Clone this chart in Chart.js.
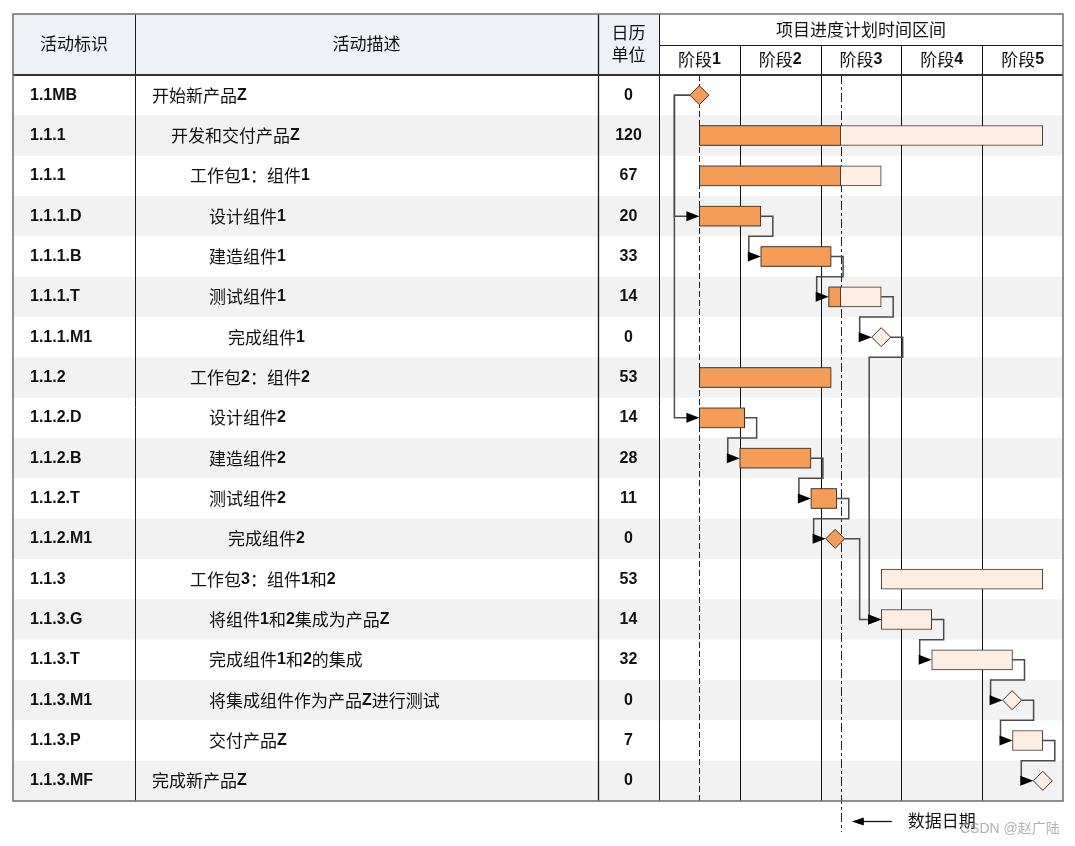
<!DOCTYPE html>
<html><head><meta charset="utf-8">
<script src="https://cdn.jsdelivr.net/npm/chart.js@4.4.1/dist/chart.umd.min.js"></script>
<style>html,body{margin:0;padding:0;background:#fff;}canvas{display:block}</style>
</head><body>
<canvas id="c" width="1075" height="846"></canvas>
<script>
// ---------- data ----------
const activityIds = ['1.1MB','1.1.1','1.1.1','1.1.1.D','1.1.1.B','1.1.1.T','1.1.1.M1','1.1.2','1.1.2.D','1.1.2.B','1.1.2.T','1.1.2.M1','1.1.3','1.1.3.G','1.1.3.T','1.1.3.M1','1.1.3.P','1.1.3.MF'];
const activityNames = ['开始新产品Z','开发和交付产品Z','工作包1：组件1','设计组件1','建造组件1','测试组件1','完成组件1','工作包2：组件2','设计组件2','建造组件2','测试组件2','完成组件2','工作包3：组件1和2','将组件1和2集成为产品Z','完成组件1和2的集成','将集成组件作为产品Z进行测试','交付产品Z','完成新产品Z'];
const nameIndent = [0,1,2,3,3,3,4,2,3,3,3,4,2,3,3,3,3,0];
const calendarUnits = ['0','120','67','20','33','14','0','53','14','28','11','0','53','14','32','0','7','0'];
const rowKinds = ['M','B','B','B','B','B','M','B','B','B','B','M','B','B','B','M','B','M'];
// positions in phase units (0..5)
const starts   = [0.5,0.5,0.5,0.5,1.26,2.1,2.75,0.5,0.5,1.0,1.88,2.18,2.75,2.75,3.375,4.37,4.375,4.75];
const ends     = [0.5,4.75,2.75,1.26,2.13,2.75,2.75,2.13,1.06,1.88,2.2,2.18,4.75,3.375,4.375,4.37,4.75,4.75];
const doneEnds = [0.5,2.25,2.25,1.26,2.13,2.25,null,2.13,1.06,1.88,2.2,2.18,null,null,null,null,null,null];
const links = [[0,3,'SS'],[0,8,'SS'],[3,4,'FS'],[4,5,'FS'],[5,6,'FS'],[6,13,'FS'],[8,9,'FS'],[9,10,'FS'],[10,11,'FS'],[11,13,'FS'],[13,14,'FS'],[14,15,'FS'],[15,16,'FS'],[16,17,'FS']];
const phaseLabels = ['阶段1','阶段2','阶段3','阶段4','阶段5'];
const projectStart = 0.5;
const dataDate = 2.25;
const headerTexts = {id:'活动标识', desc:'活动描述', unit1:'日历', unit2:'单位', gantt:'项目进度计划时间区间', dataDate:'数据日期', mark:'CSDN @赵广陆'};

// ---------- style ----------
const ORANGE = '#f59d56', LIGHT = '#fdeee3', BAR_BORDER = '#3b3029';
const LATIN = 'bold 16px "Liberation Sans", Arial, sans-serif';
const CJK = '17px "Noto Sans CJK SC", sans-serif';
const MS_R = 9.5;

function drawMixed(ctx, str, x, y, align, color) {
  const parts = (str.match(/[\x20-\x7E]+|[^\x20-\x7E]+/g) || []).map(s => ({s, f: /^[\x20-\x7E]+$/.test(s) ? LATIN : CJK}));
  let total = 0;
  parts.forEach(p => { ctx.font = p.f; p.w = ctx.measureText(p.s).width; total += p.w; });
  let cx = align === 'center' ? x - total / 2 : x;
  ctx.textAlign = 'left'; ctx.textBaseline = 'middle'; ctx.fillStyle = color || '#111';
  parts.forEach(p => { ctx.font = p.f; ctx.fillText(p.s, cx, y); cx += p.w; });
}
function line(ctx, x1, y1, x2, y2) { ctx.beginPath(); ctx.moveTo(x1, y1); ctx.lineTo(x2, y2); ctx.stroke(); }

const T = {left: 13, top: 14, right: 1063, col1: 135, col2: 598, col3: 659, headMid: 45, headBot: 75};

const tablePlugin = {
  id: 'table',
  beforeDraw(chart) {
    const {ctx, chartArea: a, scales: {x, y}} = chart;
    ctx.save();
    ctx.fillStyle = '#fff'; ctx.fillRect(0, 0, chart.width, chart.height);
    ctx.fillStyle = '#eef1f6'; ctx.fillRect(T.left, T.top, T.col3 - T.left, T.headBot - T.top);
    const rh = y.getPixelForValue(1) - y.getPixelForValue(0);
    ctx.fillStyle = '#f2f2f2';
    activityIds.forEach((id, i) => { if (i % 2 === 1) { const c = y.getPixelForValue(i); ctx.fillRect(T.left, c - rh / 2, T.right - T.left, rh); } });
    ctx.strokeStyle = '#111'; ctx.lineWidth = 1;
    for (let k = 1; k < phaseLabels.length; k++) { const px = Math.round(x.getPixelForValue(k)) + 0.5; line(ctx, px, T.headMid, px, a.bottom); }
    ctx.strokeStyle = '#222'; ctx.lineWidth = 1;
    ctx.setLineDash([6, 3]);
    let px = Math.round(x.getPixelForValue(projectStart)) + 0.5; line(ctx, px, a.top, px, a.bottom);
    ctx.setLineDash([9, 3, 3, 3]);
    px = Math.round(x.getPixelForValue(dataDate)) + 0.5; line(ctx, px, a.top, px, a.bottom + 31);
    ctx.setLineDash([]);
    ctx.restore();
  },
  afterDatasetsDraw(chart) {
    const {ctx, scales: {x, y}} = chart;
    const rh = y.getPixelForValue(1) - y.getPixelForValue(0);
    ctx.save();
    ctx.strokeStyle = '#4a4a4a'; ctx.lineWidth = 1.5; ctx.fillStyle = '#000';
    const arrow = (xt, yt) => { ctx.beginPath(); ctx.moveTo(xt, yt); ctx.lineTo(xt - 13, yt - 5); ctx.lineTo(xt - 13, yt + 5); ctx.closePath(); ctx.fill(); };
    links.forEach(([a, b, type]) => {
      const ya = y.getPixelForValue(a), yb = y.getPixelForValue(b);
      const xs = x.getPixelForValue(starts[b]) - (rowKinds[b] === 'M' ? MS_R : 0);
      ctx.beginPath();
      if (type === 'SS') {
        const x0 = x.getPixelForValue(starts[a]) - (rowKinds[a] === 'M' ? MS_R : 0);
        ctx.moveTo(x0, ya); ctx.lineTo(xs - 25, ya); ctx.lineTo(xs - 25, yb); ctx.lineTo(xs - 3, yb);
      } else {
        const xe = x.getPixelForValue(ends[a]) + (rowKinds[a] === 'M' ? MS_R : 0);
        if (xe + 15 <= xs - 12) {
          ctx.moveTo(xe, ya); ctx.lineTo(xe + 15, ya); ctx.lineTo(xe + 15, yb); ctx.lineTo(xs - 3, yb);
        } else {
          const yBd = ya + rh / 2;
          ctx.moveTo(xe, ya); ctx.lineTo(xe + 12, ya); ctx.lineTo(xe + 12, yBd);
          ctx.lineTo(xs - 12, yBd); ctx.lineTo(xs - 12, yb); ctx.lineTo(xs - 3, yb);
        }
      }
      ctx.stroke();
      arrow(xs, yb);
    });
    ctx.restore();
  },
  afterDraw(chart) {
    const {ctx, chartArea: a, scales: {x, y}} = chart;
    ctx.save();
    drawMixed(ctx, headerTexts.id, (T.left + T.col1) / 2, 44, 'center');
    drawMixed(ctx, headerTexts.desc, (T.col1 + T.col2) / 2, 44, 'center');
    drawMixed(ctx, headerTexts.unit1, (T.col2 + T.col3) / 2, 33, 'center');
    drawMixed(ctx, headerTexts.unit2, (T.col2 + T.col3) / 2, 55, 'center');
    drawMixed(ctx, headerTexts.gantt, (T.col3 + T.right) / 2, 30, 'center');
    phaseLabels.forEach((p, k) => drawMixed(ctx, p, x.getPixelForValue(k + 0.5), 60, 'center'));
    activityIds.forEach((id, i) => {
      const c = y.getPixelForValue(i);
      drawMixed(ctx, id, 30, c, 'left');
      drawMixed(ctx, activityNames[i], 152 + nameIndent[i] * 19, c, 'left');
      drawMixed(ctx, calendarUnits[i], (T.col2 + T.col3) / 2, c, 'center');
    });
    ctx.strokeStyle = '#1a1a1a'; ctx.lineWidth = 1;
    line(ctx, T.col1 + 0.5, T.top, T.col1 + 0.5, a.bottom);
    ctx.lineWidth = 1.3;
    line(ctx, T.col2 + 0.5, T.top, T.col2 + 0.5, a.bottom);
    ctx.lineWidth = 1;
    line(ctx, T.col3 + 0.5, T.top, T.col3 + 0.5, a.bottom);
    line(ctx, T.col3, T.headMid + 0.5, T.right, T.headMid + 0.5);
    ctx.lineWidth = 2; ctx.strokeStyle = '#333';
    line(ctx, T.left, T.headBot, T.right, T.headBot);
    ctx.lineWidth = 1.5; ctx.strokeStyle = '#6e6e6e';
    ctx.strokeRect(T.left, T.top, T.right - T.left, a.bottom - T.top);
    ctx.strokeStyle = '#111'; ctx.lineWidth = 1.3; ctx.fillStyle = '#000';
    const dx = x.getPixelForValue(dataDate);
    line(ctx, dx + 20, 821.5, dx + 51, 821.5);
    ctx.beginPath(); ctx.moveTo(dx + 11, 821.5); ctx.lineTo(dx + 23, 817.5); ctx.lineTo(dx + 23, 825.5); ctx.closePath(); ctx.fill();
    drawMixed(ctx, headerTexts.dataDate, dx + 67, 821, 'left');
    ctx.font = '14px "Liberation Sans", "Noto Sans CJK SC", sans-serif';
    ctx.fillStyle = 'rgba(150,150,150,0.75)'; ctx.textAlign = 'left'; ctx.textBaseline = 'middle';
    ctx.fillText(headerTexts.mark, 960, 829);
    ctx.restore();
  }
};

const barRows = rowKinds.map((k, i) => k === 'B' ? i : -1).filter(i => i >= 0);
const msRows = rowKinds.map((k, i) => k === 'M' ? i : -1).filter(i => i >= 0);

new Chart(document.getElementById('c'), {
  type: 'bar',
  data: {
    datasets: [
      { label: 'remaining', order: 3, grouped: false, barThickness: 20,
        data: barRows.map(i => ({x: [starts[i], ends[i]], y: i})),
        backgroundColor: LIGHT, borderColor: BAR_BORDER, borderWidth: 1, borderSkipped: false },
      { label: 'done', order: 2, grouped: false, barThickness: 20,
        data: barRows.filter(i => doneEnds[i] !== null).map(i => ({x: [starts[i], doneEnds[i]], y: i})),
        backgroundColor: ORANGE, borderColor: BAR_BORDER, borderWidth: 1, borderSkipped: false },
      { type: 'scatter', label: 'milestones', order: 1,
        data: msRows.map(i => ({x: starts[i], y: i})),
        pointStyle: 'rectRot', pointRadius: MS_R, pointHoverRadius: MS_R, pointBorderWidth: 1,
        pointBackgroundColor: msRows.map(i => doneEnds[i] !== null ? ORANGE : LIGHT),
        pointBorderColor: BAR_BORDER }
    ]
  },
  options: {
    indexAxis: 'y', responsive: false, animation: false, devicePixelRatio: 1,
    layout: {padding: {left: 659, right: 12, top: 75, bottom: 45}},
    scales: {
      x: {type: 'linear', min: 0, max: 5, display: false, offset: false},
      y: {type: 'linear', min: -0.5, max: 17.5, reverse: true, display: false, offset: false}
    },
    plugins: {legend: {display: false}, tooltip: {enabled: false}}
  },
  plugins: [tablePlugin]
});
</script>
</body></html>
